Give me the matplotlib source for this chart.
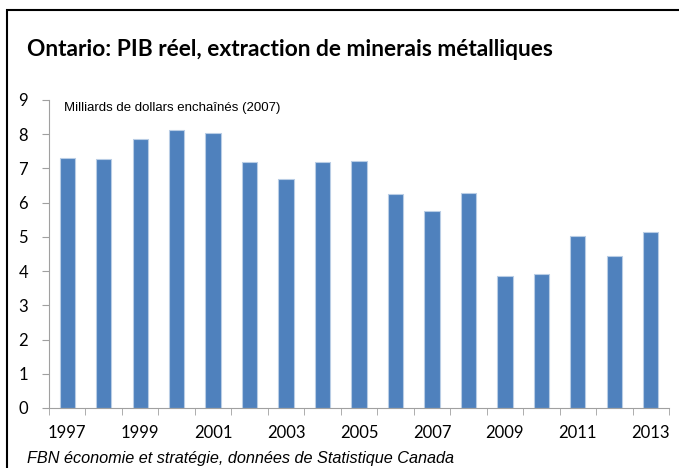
import matplotlib
matplotlib.use("Agg")
import matplotlib.pyplot as plt
from matplotlib.patches import Rectangle
import numpy as np

years = list(range(1997, 2014))
values = [7.31, 7.29, 7.87, 8.11, 8.04, 7.19, 6.68, 7.19, 7.23, 6.25, 5.76, 6.27,
          3.86, 3.93, 5.04, 4.44, 5.15]
yticks = list(range(0, 10))
xlabels = [str(y) if (y - 1997) % 2 == 0 else "" for y in years]

title = "Ontario: PIB réel, extraction de minerais métalliques"
unit = "Milliards de dollars enchaînés (2007)"
source = "FBN économie et stratégie, données de Statistique Canada"

fig = plt.figure(figsize=(6.79, 4.68), dpi=100)
fig.patch.set_facecolor("white")

# outer frame
fig.add_artist(Rectangle((7 / 679, -0.05), 1.0, 1 - 10 / 468 + 0.05,
                         transform=fig.transFigure, fill=False,
                         edgecolor="black", linewidth=1.5))

ax = fig.add_axes([49 / 679, 1 - 408 / 468, (669 - 49) / 679, (408 - 100) / 468])
x = np.arange(len(years))
ax.bar(x, values, width=0.42, color="#4F81BD", edgecolor="#B9CDE5", linewidth=0.8)
ax.set_xlim(-0.5, len(years) - 0.5)
ax.set_ylim(0, 9)
ax.set_yticks(yticks)
ax.set_yticklabels([str(v) for v in yticks], fontfamily="Lato", fontsize=12)
ax.set_xticks(x)
ax.set_xticklabels(xlabels, fontfamily="Lato", fontsize=12)
ax.tick_params(axis="x", length=0, pad=12)
ax.set_xticks(np.arange(-0.5, len(years) + 0.5, 1), minor=True)
ax.tick_params(axis="x", which="minor", length=5, color="#A0A0A0", direction="out")
ax.tick_params(axis="y", length=5, color="#A0A0A0", direction="out", pad=10)
for s in ["top", "right"]:
    ax.spines[s].set_visible(False)
ax.spines["left"].set_color("#A0A0A0")
ax.spines["bottom"].set_color("#A0A0A0")

ax.text(0.024, 0.975, unit, transform=ax.transAxes, fontfamily="Liberation Sans",
        fontsize=9.5, va="center", ha="left")

fig.text(27 / 679, 1 - 50 / 468, title, fontfamily="Lato", fontweight="bold",
         fontsize=16.4, va="center", ha="left")
fig.text(27 / 679, 1 - 459 / 468, source, fontfamily="Liberation Sans",
         fontstyle="italic", fontsize=11.7, va="center", ha="left")

fig.savefig("out.png", dpi=100)
